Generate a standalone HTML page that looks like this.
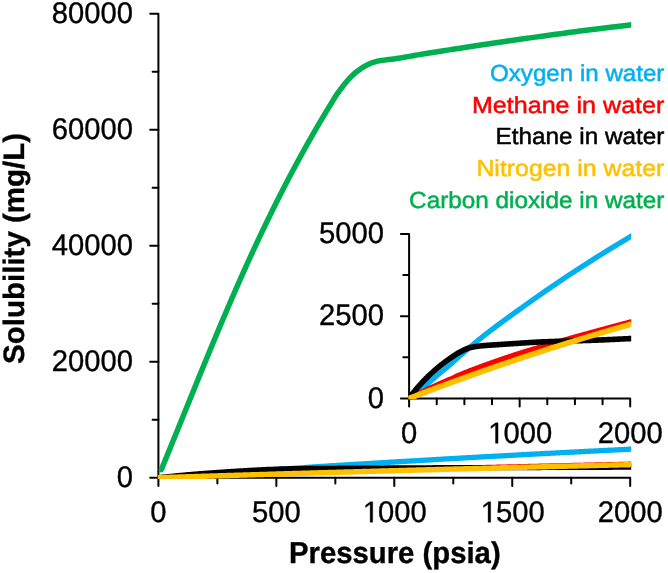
<!DOCTYPE html>
<html><head><meta charset="utf-8"><style>
html,body{margin:0;padding:0;background:#fff;}
body{width:668px;height:573px;overflow:hidden;font-family:"Liberation Sans",sans-serif;}
svg{display:block;will-change:transform;}
text{text-rendering:geometricPrecision;}
</style></head><body>
<svg width="668" height="573" viewBox="0 0 668 573">
<g stroke="#000" stroke-width="2" fill="none" stroke-linecap="round" stroke-linejoin="round">
<path d="M150.20000000000002,13.7 H158.4 V485.9"/>
<path d="M150.20000000000002,477.7 H630.2 V485.9"/>
<path d="M152.6,419.70 H158.4"/>
<path d="M150.20000000000002,361.70 H158.4"/>
<path d="M152.6,303.70 H158.4"/>
<path d="M150.20000000000002,245.70 H158.4"/>
<path d="M152.6,187.70 H158.4"/>
<path d="M150.20000000000002,129.70 H158.4"/>
<path d="M152.6,71.70 H158.4"/>
<path d="M217.38,477.7 V483.5"/>
<path d="M276.35,477.7 V485.9"/>
<path d="M335.33,477.7 V483.5"/>
<path d="M394.30,477.7 V485.9"/>
<path d="M453.28,477.7 V483.5"/>
<path d="M512.25,477.7 V485.9"/>
<path d="M571.23,477.7 V483.5"/>
<path d="M400.90000000000003,233.9 H409.1 V406.59999999999997"/>
<path d="M400.90000000000003,398.4 H630.2 V406.59999999999997"/>
<path d="M403.3,357.27 H409.1"/>
<path d="M400.90000000000003,316.15 H409.1"/>
<path d="M403.3,275.02 H409.1"/>
<path d="M436.74,398.4 V404.2"/>
<path d="M464.38,398.4 V404.2"/>
<path d="M492.01,398.4 V404.2"/>
<path d="M519.65,398.4 V406.59999999999997"/>
<path d="M547.29,398.4 V404.2"/>
<path d="M574.93,398.4 V404.2"/>
<path d="M602.56,398.4 V404.2"/>
</g>
<defs><clipPath id="cm"><rect x="157.8" y="0" width="473.4" height="478.9"/></clipPath><clipPath id="ci"><rect x="408.3" y="200" width="222.9" height="199.3"/></clipPath></defs>
<g clip-path="url(#cm)">
<path d="M158.40,477.70 L159.58,477.63 L160.76,477.55 L161.94,477.48 L163.12,477.40 L164.30,477.33 L165.48,477.25 L166.66,477.18 L167.84,477.10 L169.02,477.03 L170.19,476.95 L171.37,476.88 L172.55,476.80 L173.73,476.72 L174.91,476.65 L176.09,476.57 L177.27,476.49 L178.45,476.42 L179.63,476.34 L180.81,476.26 L181.99,476.18 L183.17,476.10 L184.35,476.02 L185.53,475.95 L186.71,475.87 L187.89,475.79 L189.07,475.71 L190.25,475.63 L191.43,475.55 L192.61,475.47 L193.79,475.39 L194.96,475.31 L196.14,475.23 L197.32,475.14 L198.50,475.06 L199.68,474.98 L200.86,474.89 L202.04,474.81 L203.22,474.73 L204.40,474.64 L205.58,474.56 L206.76,474.47 L207.94,474.39 L209.12,474.30 L210.30,474.22 L211.48,474.13 L212.66,474.05 L213.84,473.96 L215.02,473.88 L216.20,473.80 L217.38,473.71 L218.55,473.63 L219.73,473.54 L220.91,473.46 L222.09,473.38 L223.27,473.30 L224.45,473.21 L225.63,473.13 L226.81,473.05 L227.99,472.97 L229.17,472.89 L230.35,472.81 L231.53,472.74 L232.71,472.66 L233.89,472.58 L235.07,472.50 L236.25,472.42 L237.43,472.34 L238.61,472.26 L239.79,472.18 L240.97,472.10 L242.14,472.02 L243.32,471.94 L244.50,471.86 L245.68,471.78 L246.86,471.69 L248.04,471.61 L249.22,471.52 L250.40,471.43 L251.58,471.35 L252.76,471.26 L253.94,471.17 L255.12,471.08 L256.30,470.99 L257.48,470.90 L258.66,470.81 L259.84,470.72 L261.02,470.63 L262.20,470.55 L263.38,470.46 L264.56,470.37 L265.73,470.28 L266.91,470.20 L268.09,470.11 L269.27,470.03 L270.45,469.94 L271.63,469.86 L272.81,469.77 L273.99,469.69 L275.17,469.60 L276.35,469.52 L277.53,469.44 L278.71,469.35 L279.89,469.27 L281.07,469.19 L282.25,469.10 L283.43,469.02 L284.61,468.94 L285.79,468.85 L286.97,468.77 L288.14,468.69 L289.32,468.61 L290.50,468.52 L291.68,468.44 L292.86,468.36 L294.04,468.27 L295.22,468.19 L296.40,468.11 L297.58,468.03 L298.76,467.94 L299.94,467.86 L301.12,467.78 L302.30,467.70 L303.48,467.62 L304.66,467.53 L305.84,467.45 L307.02,467.37 L308.20,467.29 L309.38,467.21 L310.56,467.14 L311.74,467.06 L312.91,466.98 L314.09,466.90 L315.27,466.82 L316.45,466.75 L317.63,466.67 L318.81,466.59 L319.99,466.52 L321.17,466.44 L322.35,466.37 L323.53,466.29 L324.71,466.22 L325.89,466.14 L327.07,466.07 L328.25,465.99 L329.43,465.92 L330.61,465.84 L331.79,465.77 L332.97,465.70 L334.15,465.62 L335.33,465.55 L336.50,465.48 L337.68,465.40 L338.86,465.33 L340.04,465.26 L341.22,465.18 L342.40,465.11 L343.58,465.04 L344.76,464.96 L345.94,464.89 L347.12,464.82 L348.30,464.75 L349.48,464.67 L350.66,464.60 L351.84,464.53 L353.02,464.46 L354.20,464.39 L355.38,464.31 L356.56,464.24 L357.74,464.17 L358.92,464.10 L360.09,464.03 L361.27,463.96 L362.45,463.88 L363.63,463.81 L364.81,463.74 L365.99,463.67 L367.17,463.60 L368.35,463.53 L369.53,463.46 L370.71,463.39 L371.89,463.32 L373.07,463.25 L374.25,463.18 L375.43,463.11 L376.61,463.03 L377.79,462.96 L378.97,462.89 L380.15,462.82 L381.33,462.75 L382.50,462.68 L383.68,462.61 L384.86,462.54 L386.04,462.47 L387.22,462.40 L388.40,462.33 L389.58,462.26 L390.76,462.19 L391.94,462.12 L393.12,462.05 L394.30,461.98 L395.48,461.91 L396.66,461.84 L397.84,461.77 L399.02,461.70 L400.20,461.64 L401.38,461.57 L402.56,461.50 L403.74,461.43 L404.92,461.36 L406.10,461.29 L407.27,461.22 L408.45,461.15 L409.63,461.08 L410.81,461.01 L411.99,460.94 L413.17,460.87 L414.35,460.80 L415.53,460.73 L416.71,460.66 L417.89,460.60 L419.07,460.53 L420.25,460.46 L421.43,460.39 L422.61,460.32 L423.79,460.25 L424.97,460.18 L426.15,460.11 L427.33,460.04 L428.51,459.98 L429.69,459.91 L430.86,459.84 L432.04,459.77 L433.22,459.70 L434.40,459.63 L435.58,459.57 L436.76,459.50 L437.94,459.43 L439.12,459.36 L440.30,459.29 L441.48,459.22 L442.66,459.16 L443.84,459.09 L445.02,459.02 L446.20,458.95 L447.38,458.89 L448.56,458.82 L449.74,458.75 L450.92,458.68 L452.10,458.62 L453.28,458.55 L454.45,458.48 L455.63,458.41 L456.81,458.35 L457.99,458.28 L459.17,458.21 L460.35,458.15 L461.53,458.08 L462.71,458.01 L463.89,457.95 L465.07,457.88 L466.25,457.81 L467.43,457.75 L468.61,457.68 L469.79,457.61 L470.97,457.55 L472.15,457.48 L473.33,457.42 L474.51,457.35 L475.69,457.28 L476.87,457.22 L478.04,457.15 L479.22,457.09 L480.40,457.02 L481.58,456.96 L482.76,456.89 L483.94,456.82 L485.12,456.76 L486.30,456.69 L487.48,456.63 L488.66,456.56 L489.84,456.50 L491.02,456.43 L492.20,456.37 L493.38,456.31 L494.56,456.24 L495.74,456.18 L496.92,456.11 L498.10,456.05 L499.28,455.98 L500.46,455.92 L501.63,455.85 L502.81,455.79 L503.99,455.73 L505.17,455.66 L506.35,455.60 L507.53,455.53 L508.71,455.47 L509.89,455.41 L511.07,455.34 L512.25,455.28 L513.43,455.22 L514.61,455.15 L515.79,455.09 L516.97,455.03 L518.15,454.96 L519.33,454.90 L520.51,454.84 L521.69,454.77 L522.87,454.71 L524.05,454.65 L525.22,454.58 L526.40,454.52 L527.58,454.46 L528.76,454.40 L529.94,454.33 L531.12,454.27 L532.30,454.21 L533.48,454.15 L534.66,454.08 L535.84,454.02 L537.02,453.96 L538.20,453.90 L539.38,453.83 L540.56,453.77 L541.74,453.71 L542.92,453.65 L544.10,453.59 L545.28,453.52 L546.46,453.46 L547.64,453.40 L548.81,453.34 L549.99,453.28 L551.17,453.21 L552.35,453.15 L553.53,453.09 L554.71,453.03 L555.89,452.97 L557.07,452.91 L558.25,452.84 L559.43,452.78 L560.61,452.72 L561.79,452.66 L562.97,452.60 L564.15,452.54 L565.33,452.48 L566.51,452.42 L567.69,452.36 L568.87,452.29 L570.05,452.23 L571.23,452.17 L572.40,452.11 L573.58,452.05 L574.76,451.99 L575.94,451.93 L577.12,451.87 L578.30,451.81 L579.48,451.75 L580.66,451.69 L581.84,451.63 L583.02,451.57 L584.20,451.51 L585.38,451.45 L586.56,451.39 L587.74,451.33 L588.92,451.27 L590.10,451.21 L591.28,451.15 L592.46,451.09 L593.64,451.03 L594.82,450.97 L595.99,450.91 L597.17,450.85 L598.35,450.80 L599.53,450.74 L600.71,450.68 L601.89,450.62 L603.07,450.56 L604.25,450.50 L605.43,450.44 L606.61,450.38 L607.79,450.32 L608.97,450.26 L610.15,450.21 L611.33,450.15 L612.51,450.09 L613.69,450.03 L614.87,449.97 L616.05,449.91 L617.23,449.85 L618.41,449.80 L619.58,449.74 L620.76,449.68 L621.94,449.62 L623.12,449.56 L624.30,449.50 L625.48,449.44 L626.66,449.39 L627.84,449.33 L629.02,449.27 L630.20,449.21 L632.56,449.09" stroke="#00B0F0" stroke-width="5.3" fill="none" stroke-linejoin="round" stroke-linecap="round"/>
<path d="M158.40,477.70 L159.58,477.65 L160.76,477.60 L161.94,477.55 L163.12,477.50 L164.30,477.46 L165.48,477.41 L166.66,477.36 L167.84,477.31 L169.02,477.26 L170.19,477.21 L171.37,477.17 L172.55,477.12 L173.73,477.07 L174.91,477.02 L176.09,476.97 L177.27,476.93 L178.45,476.88 L179.63,476.83 L180.81,476.78 L181.99,476.74 L183.17,476.69 L184.35,476.64 L185.53,476.59 L186.71,476.55 L187.89,476.50 L189.07,476.45 L190.25,476.41 L191.43,476.36 L192.61,476.31 L193.79,476.27 L194.96,476.22 L196.14,476.17 L197.32,476.13 L198.50,476.08 L199.68,476.04 L200.86,475.99 L202.04,475.94 L203.22,475.90 L204.40,475.85 L205.58,475.80 L206.76,475.76 L207.94,475.71 L209.12,475.67 L210.30,475.62 L211.48,475.58 L212.66,475.53 L213.84,475.49 L215.02,475.44 L216.20,475.40 L217.38,475.35 L218.55,475.31 L219.73,475.26 L220.91,475.22 L222.09,475.17 L223.27,475.13 L224.45,475.09 L225.63,475.04 L226.81,475.00 L227.99,474.96 L229.17,474.92 L230.35,474.87 L231.53,474.83 L232.71,474.79 L233.89,474.75 L235.07,474.71 L236.25,474.67 L237.43,474.63 L238.61,474.58 L239.79,474.54 L240.97,474.50 L242.14,474.46 L243.32,474.42 L244.50,474.38 L245.68,474.33 L246.86,474.29 L248.04,474.25 L249.22,474.20 L250.40,474.16 L251.58,474.11 L252.76,474.07 L253.94,474.02 L255.12,473.98 L256.30,473.93 L257.48,473.89 L258.66,473.84 L259.84,473.80 L261.02,473.76 L262.20,473.71 L263.38,473.67 L264.56,473.63 L265.73,473.58 L266.91,473.54 L268.09,473.50 L269.27,473.46 L270.45,473.42 L271.63,473.38 L272.81,473.34 L273.99,473.30 L275.17,473.26 L276.35,473.22 L277.53,473.18 L278.71,473.14 L279.89,473.10 L281.07,473.06 L282.25,473.03 L283.43,472.99 L284.61,472.95 L285.79,472.91 L286.97,472.87 L288.14,472.84 L289.32,472.80 L290.50,472.76 L291.68,472.72 L292.86,472.69 L294.04,472.65 L295.22,472.61 L296.40,472.57 L297.58,472.54 L298.76,472.50 L299.94,472.46 L301.12,472.43 L302.30,472.39 L303.48,472.35 L304.66,472.32 L305.84,472.28 L307.02,472.25 L308.20,472.21 L309.38,472.17 L310.56,472.14 L311.74,472.10 L312.91,472.07 L314.09,472.03 L315.27,472.00 L316.45,471.96 L317.63,471.92 L318.81,471.89 L319.99,471.85 L321.17,471.82 L322.35,471.78 L323.53,471.75 L324.71,471.71 L325.89,471.68 L327.07,471.64 L328.25,471.61 L329.43,471.57 L330.61,471.54 L331.79,471.50 L332.97,471.47 L334.15,471.43 L335.33,471.40 L336.50,471.37 L337.68,471.33 L338.86,471.30 L340.04,471.26 L341.22,471.23 L342.40,471.19 L343.58,471.16 L344.76,471.13 L345.94,471.09 L347.12,471.06 L348.30,471.02 L349.48,470.99 L350.66,470.96 L351.84,470.92 L353.02,470.89 L354.20,470.86 L355.38,470.82 L356.56,470.79 L357.74,470.76 L358.92,470.72 L360.09,470.69 L361.27,470.66 L362.45,470.62 L363.63,470.59 L364.81,470.56 L365.99,470.53 L367.17,470.49 L368.35,470.46 L369.53,470.43 L370.71,470.39 L371.89,470.36 L373.07,470.33 L374.25,470.30 L375.43,470.26 L376.61,470.23 L377.79,470.20 L378.97,470.17 L380.15,470.14 L381.33,470.10 L382.50,470.07 L383.68,470.04 L384.86,470.01 L386.04,469.98 L387.22,469.95 L388.40,469.91 L389.58,469.88 L390.76,469.85 L391.94,469.82 L393.12,469.79 L394.30,469.76 L395.48,469.73 L396.66,469.69 L397.84,469.66 L399.02,469.63 L400.20,469.60 L401.38,469.57 L402.56,469.54 L403.74,469.51 L404.92,469.48 L406.10,469.45 L407.27,469.42 L408.45,469.39 L409.63,469.36 L410.81,469.33 L411.99,469.30 L413.17,469.27 L414.35,469.24 L415.53,469.21 L416.71,469.18 L417.89,469.16 L419.07,469.13 L420.25,469.10 L421.43,469.07 L422.61,469.04 L423.79,469.01 L424.97,468.98 L426.15,468.95 L427.33,468.92 L428.51,468.89 L429.69,468.87 L430.86,468.84 L432.04,468.81 L433.22,468.78 L434.40,468.75 L435.58,468.72 L436.76,468.69 L437.94,468.66 L439.12,468.63 L440.30,468.61 L441.48,468.58 L442.66,468.55 L443.84,468.52 L445.02,468.49 L446.20,468.46 L447.38,468.43 L448.56,468.40 L449.74,468.37 L450.92,468.35 L452.10,468.32 L453.28,468.29 L454.45,468.26 L455.63,468.23 L456.81,468.20 L457.99,468.17 L459.17,468.15 L460.35,468.12 L461.53,468.09 L462.71,468.06 L463.89,468.03 L465.07,468.00 L466.25,467.98 L467.43,467.95 L468.61,467.92 L469.79,467.89 L470.97,467.86 L472.15,467.83 L473.33,467.81 L474.51,467.78 L475.69,467.75 L476.87,467.72 L478.04,467.69 L479.22,467.67 L480.40,467.64 L481.58,467.61 L482.76,467.58 L483.94,467.55 L485.12,467.53 L486.30,467.50 L487.48,467.47 L488.66,467.44 L489.84,467.41 L491.02,467.39 L492.20,467.36 L493.38,467.33 L494.56,467.30 L495.74,467.28 L496.92,467.25 L498.10,467.22 L499.28,467.19 L500.46,467.16 L501.63,467.14 L502.81,467.11 L503.99,467.08 L505.17,467.05 L506.35,467.03 L507.53,467.00 L508.71,466.97 L509.89,466.94 L511.07,466.92 L512.25,466.89 L513.43,466.86 L514.61,466.84 L515.79,466.81 L516.97,466.78 L518.15,466.75 L519.33,466.73 L520.51,466.70 L521.69,466.67 L522.87,466.64 L524.05,466.62 L525.22,466.59 L526.40,466.56 L527.58,466.54 L528.76,466.51 L529.94,466.48 L531.12,466.45 L532.30,466.43 L533.48,466.40 L534.66,466.37 L535.84,466.35 L537.02,466.32 L538.20,466.29 L539.38,466.27 L540.56,466.24 L541.74,466.21 L542.92,466.18 L544.10,466.16 L545.28,466.13 L546.46,466.10 L547.64,466.08 L548.81,466.05 L549.99,466.02 L551.17,466.00 L552.35,465.97 L553.53,465.94 L554.71,465.92 L555.89,465.89 L557.07,465.86 L558.25,465.84 L559.43,465.81 L560.61,465.78 L561.79,465.76 L562.97,465.73 L564.15,465.70 L565.33,465.68 L566.51,465.65 L567.69,465.62 L568.87,465.60 L570.05,465.57 L571.23,465.55 L572.40,465.52 L573.58,465.49 L574.76,465.47 L575.94,465.44 L577.12,465.41 L578.30,465.39 L579.48,465.36 L580.66,465.33 L581.84,465.31 L583.02,465.28 L584.20,465.26 L585.38,465.23 L586.56,465.20 L587.74,465.18 L588.92,465.15 L590.10,465.12 L591.28,465.10 L592.46,465.07 L593.64,465.05 L594.82,465.02 L595.99,464.99 L597.17,464.97 L598.35,464.94 L599.53,464.92 L600.71,464.89 L601.89,464.86 L603.07,464.84 L604.25,464.81 L605.43,464.79 L606.61,464.76 L607.79,464.73 L608.97,464.71 L610.15,464.68 L611.33,464.66 L612.51,464.63 L613.69,464.60 L614.87,464.58 L616.05,464.55 L617.23,464.53 L618.41,464.50 L619.58,464.48 L620.76,464.45 L621.94,464.42 L623.12,464.40 L624.30,464.37 L625.48,464.35 L626.66,464.32 L627.84,464.30 L629.02,464.27 L630.20,464.25 L632.56,464.20" stroke="#FF0000" stroke-width="5.3" fill="none" stroke-linejoin="round" stroke-linecap="round"/>
<path d="M158.40,477.70 L159.58,477.57 L160.76,477.44 L161.94,477.31 L163.12,477.18 L164.30,477.05 L165.48,476.92 L166.66,476.80 L167.84,476.67 L169.02,476.55 L170.19,476.43 L171.37,476.30 L172.55,476.18 L173.73,476.07 L174.91,475.95 L176.09,475.83 L177.27,475.72 L178.45,475.60 L179.63,475.49 L180.81,475.38 L181.99,475.27 L183.17,475.16 L184.35,475.06 L185.53,474.95 L186.71,474.85 L187.89,474.74 L189.07,474.64 L190.25,474.54 L191.43,474.44 L192.61,474.34 L193.79,474.24 L194.96,474.14 L196.14,474.05 L197.32,473.95 L198.50,473.86 L199.68,473.76 L200.86,473.67 L202.04,473.58 L203.22,473.49 L204.40,473.40 L205.58,473.31 L206.76,473.22 L207.94,473.13 L209.12,473.04 L210.30,472.95 L211.48,472.87 L212.66,472.78 L213.84,472.70 L215.02,472.61 L216.20,472.53 L217.38,472.45 L218.55,472.36 L219.73,472.28 L220.91,472.20 L222.09,472.12 L223.27,472.04 L224.45,471.96 L225.63,471.88 L226.81,471.81 L227.99,471.73 L229.17,471.65 L230.35,471.58 L231.53,471.50 L232.71,471.43 L233.89,471.35 L235.07,471.28 L236.25,471.21 L237.43,471.14 L238.61,471.06 L239.79,470.99 L240.97,470.92 L242.14,470.85 L243.32,470.78 L244.50,470.72 L245.68,470.65 L246.86,470.58 L248.04,470.51 L249.22,470.45 L250.40,470.38 L251.58,470.31 L252.76,470.24 L253.94,470.18 L255.12,470.11 L256.30,470.05 L257.48,469.98 L258.66,469.92 L259.84,469.86 L261.02,469.80 L262.20,469.74 L263.38,469.68 L264.56,469.63 L265.73,469.58 L266.91,469.52 L268.09,469.47 L269.27,469.42 L270.45,469.37 L271.63,469.32 L272.81,469.28 L273.99,469.23 L275.17,469.18 L276.35,469.13 L277.53,469.09 L278.71,469.04 L279.89,469.00 L281.07,468.96 L282.25,468.92 L283.43,468.89 L284.61,468.85 L285.79,468.82 L286.97,468.79 L288.14,468.77 L289.32,468.74 L290.50,468.72 L291.68,468.70 L292.86,468.68 L294.04,468.66 L295.22,468.64 L296.40,468.62 L297.58,468.60 L298.76,468.59 L299.94,468.57 L301.12,468.55 L302.30,468.54 L303.48,468.53 L304.66,468.51 L305.84,468.50 L307.02,468.49 L308.20,468.48 L309.38,468.47 L310.56,468.45 L311.74,468.44 L312.91,468.43 L314.09,468.42 L315.27,468.42 L316.45,468.41 L317.63,468.40 L318.81,468.39 L319.99,468.38 L321.17,468.37 L322.35,468.37 L323.53,468.36 L324.71,468.35 L325.89,468.34 L327.07,468.34 L328.25,468.33 L329.43,468.32 L330.61,468.32 L331.79,468.31 L332.97,468.30 L334.15,468.30 L335.33,468.29 L336.50,468.28 L337.68,468.28 L338.86,468.27 L340.04,468.26 L341.22,468.26 L342.40,468.25 L343.58,468.25 L344.76,468.24 L345.94,468.23 L347.12,468.23 L348.30,468.22 L349.48,468.21 L350.66,468.21 L351.84,468.20 L353.02,468.19 L354.20,468.19 L355.38,468.18 L356.56,468.17 L357.74,468.17 L358.92,468.16 L360.09,468.15 L361.27,468.15 L362.45,468.14 L363.63,468.13 L364.81,468.13 L365.99,468.12 L367.17,468.12 L368.35,468.11 L369.53,468.10 L370.71,468.10 L371.89,468.09 L373.07,468.08 L374.25,468.08 L375.43,468.07 L376.61,468.06 L377.79,468.06 L378.97,468.05 L380.15,468.05 L381.33,468.04 L382.50,468.03 L383.68,468.03 L384.86,468.02 L386.04,468.02 L387.22,468.01 L388.40,468.00 L389.58,468.00 L390.76,467.99 L391.94,467.98 L393.12,467.98 L394.30,467.97 L395.48,467.97 L396.66,467.96 L397.84,467.95 L399.02,467.95 L400.20,467.94 L401.38,467.94 L402.56,467.93 L403.74,467.92 L404.92,467.92 L406.10,467.91 L407.27,467.90 L408.45,467.90 L409.63,467.89 L410.81,467.88 L411.99,467.88 L413.17,467.87 L414.35,467.87 L415.53,467.86 L416.71,467.85 L417.89,467.85 L419.07,467.84 L420.25,467.84 L421.43,467.83 L422.61,467.82 L423.79,467.82 L424.97,467.81 L426.15,467.81 L427.33,467.80 L428.51,467.80 L429.69,467.79 L430.86,467.78 L432.04,467.78 L433.22,467.77 L434.40,467.77 L435.58,467.77 L436.76,467.76 L437.94,467.76 L439.12,467.75 L440.30,467.75 L441.48,467.74 L442.66,467.74 L443.84,467.74 L445.02,467.73 L446.20,467.73 L447.38,467.72 L448.56,467.72 L449.74,467.72 L450.92,467.71 L452.10,467.71 L453.28,467.70 L454.45,467.70 L455.63,467.70 L456.81,467.69 L457.99,467.69 L459.17,467.69 L460.35,467.68 L461.53,467.68 L462.71,467.67 L463.89,467.67 L465.07,467.67 L466.25,467.66 L467.43,467.66 L468.61,467.66 L469.79,467.65 L470.97,467.65 L472.15,467.65 L473.33,467.64 L474.51,467.64 L475.69,467.64 L476.87,467.64 L478.04,467.63 L479.22,467.63 L480.40,467.63 L481.58,467.62 L482.76,467.62 L483.94,467.62 L485.12,467.61 L486.30,467.61 L487.48,467.61 L488.66,467.61 L489.84,467.60 L491.02,467.60 L492.20,467.60 L493.38,467.59 L494.56,467.59 L495.74,467.59 L496.92,467.59 L498.10,467.58 L499.28,467.58 L500.46,467.58 L501.63,467.57 L502.81,467.57 L503.99,467.57 L505.17,467.57 L506.35,467.56 L507.53,467.56 L508.71,467.56 L509.89,467.55 L511.07,467.55 L512.25,467.55 L513.43,467.55 L514.61,467.54 L515.79,467.54 L516.97,467.54 L518.15,467.53 L519.33,467.53 L520.51,467.53 L521.69,467.53 L522.87,467.52 L524.05,467.52 L525.22,467.52 L526.40,467.51 L527.58,467.51 L528.76,467.51 L529.94,467.51 L531.12,467.50 L532.30,467.50 L533.48,467.50 L534.66,467.49 L535.84,467.49 L537.02,467.49 L538.20,467.48 L539.38,467.48 L540.56,467.48 L541.74,467.48 L542.92,467.47 L544.10,467.47 L545.28,467.47 L546.46,467.46 L547.64,467.46 L548.81,467.46 L549.99,467.45 L551.17,467.45 L552.35,467.45 L553.53,467.44 L554.71,467.44 L555.89,467.44 L557.07,467.43 L558.25,467.43 L559.43,467.42 L560.61,467.42 L561.79,467.42 L562.97,467.41 L564.15,467.41 L565.33,467.41 L566.51,467.40 L567.69,467.40 L568.87,467.39 L570.05,467.39 L571.23,467.39 L572.40,467.38 L573.58,467.38 L574.76,467.37 L575.94,467.37 L577.12,467.36 L578.30,467.36 L579.48,467.36 L580.66,467.35 L581.84,467.35 L583.02,467.34 L584.20,467.34 L585.38,467.33 L586.56,467.33 L587.74,467.32 L588.92,467.32 L590.10,467.32 L591.28,467.31 L592.46,467.31 L593.64,467.30 L594.82,467.30 L595.99,467.29 L597.17,467.29 L598.35,467.28 L599.53,467.28 L600.71,467.27 L601.89,467.27 L603.07,467.26 L604.25,467.26 L605.43,467.25 L606.61,467.25 L607.79,467.24 L608.97,467.24 L610.15,467.23 L611.33,467.23 L612.51,467.22 L613.69,467.22 L614.87,467.22 L616.05,467.21 L617.23,467.21 L618.41,467.20 L619.58,467.20 L620.76,467.19 L621.94,467.19 L623.12,467.18 L624.30,467.18 L625.48,467.17 L626.66,467.17 L627.84,467.17 L629.02,467.16 L630.20,467.16 L632.56,467.15" stroke="#000000" stroke-width="5.3" fill="none" stroke-linejoin="round" stroke-linecap="round"/>
<path d="M158.40,477.70 L159.58,477.66 L160.76,477.62 L161.94,477.59 L163.12,477.55 L164.30,477.51 L165.48,477.47 L166.66,477.44 L167.84,477.40 L169.02,477.36 L170.19,477.32 L171.37,477.29 L172.55,477.25 L173.73,477.21 L174.91,477.18 L176.09,477.14 L177.27,477.10 L178.45,477.06 L179.63,477.03 L180.81,476.99 L181.99,476.95 L183.17,476.91 L184.35,476.88 L185.53,476.84 L186.71,476.80 L187.89,476.77 L189.07,476.73 L190.25,476.69 L191.43,476.66 L192.61,476.62 L193.79,476.58 L194.96,476.55 L196.14,476.51 L197.32,476.47 L198.50,476.43 L199.68,476.40 L200.86,476.36 L202.04,476.32 L203.22,476.29 L204.40,476.25 L205.58,476.21 L206.76,476.18 L207.94,476.14 L209.12,476.10 L210.30,476.07 L211.48,476.03 L212.66,476.00 L213.84,475.96 L215.02,475.92 L216.20,475.89 L217.38,475.85 L218.55,475.81 L219.73,475.78 L220.91,475.74 L222.09,475.70 L223.27,475.67 L224.45,475.63 L225.63,475.60 L226.81,475.56 L227.99,475.52 L229.17,475.49 L230.35,475.45 L231.53,475.41 L232.71,475.38 L233.89,475.34 L235.07,475.31 L236.25,475.27 L237.43,475.23 L238.61,475.20 L239.79,475.16 L240.97,475.13 L242.14,475.09 L243.32,475.06 L244.50,475.02 L245.68,474.98 L246.86,474.95 L248.04,474.91 L249.22,474.88 L250.40,474.84 L251.58,474.80 L252.76,474.77 L253.94,474.73 L255.12,474.70 L256.30,474.66 L257.48,474.63 L258.66,474.59 L259.84,474.56 L261.02,474.52 L262.20,474.49 L263.38,474.45 L264.56,474.41 L265.73,474.38 L266.91,474.34 L268.09,474.31 L269.27,474.27 L270.45,474.24 L271.63,474.20 L272.81,474.17 L273.99,474.13 L275.17,474.10 L276.35,474.06 L277.53,474.03 L278.71,473.99 L279.89,473.96 L281.07,473.92 L282.25,473.89 L283.43,473.85 L284.61,473.82 L285.79,473.78 L286.97,473.75 L288.14,473.71 L289.32,473.68 L290.50,473.64 L291.68,473.61 L292.86,473.57 L294.04,473.54 L295.22,473.50 L296.40,473.47 L297.58,473.43 L298.76,473.40 L299.94,473.36 L301.12,473.33 L302.30,473.30 L303.48,473.26 L304.66,473.23 L305.84,473.19 L307.02,473.16 L308.20,473.12 L309.38,473.09 L310.56,473.05 L311.74,473.02 L312.91,472.99 L314.09,472.95 L315.27,472.92 L316.45,472.88 L317.63,472.85 L318.81,472.81 L319.99,472.78 L321.17,472.75 L322.35,472.71 L323.53,472.68 L324.71,472.64 L325.89,472.61 L327.07,472.58 L328.25,472.54 L329.43,472.51 L330.61,472.47 L331.79,472.44 L332.97,472.41 L334.15,472.37 L335.33,472.34 L336.50,472.30 L337.68,472.27 L338.86,472.24 L340.04,472.20 L341.22,472.17 L342.40,472.14 L343.58,472.10 L344.76,472.07 L345.94,472.03 L347.12,472.00 L348.30,471.97 L349.48,471.93 L350.66,471.90 L351.84,471.87 L353.02,471.83 L354.20,471.80 L355.38,471.77 L356.56,471.73 L357.74,471.70 L358.92,471.67 L360.09,471.63 L361.27,471.60 L362.45,471.57 L363.63,471.53 L364.81,471.50 L365.99,471.47 L367.17,471.43 L368.35,471.40 L369.53,471.37 L370.71,471.33 L371.89,471.30 L373.07,471.27 L374.25,471.23 L375.43,471.20 L376.61,471.17 L377.79,471.14 L378.97,471.10 L380.15,471.07 L381.33,471.04 L382.50,471.00 L383.68,470.97 L384.86,470.94 L386.04,470.91 L387.22,470.87 L388.40,470.84 L389.58,470.81 L390.76,470.78 L391.94,470.74 L393.12,470.71 L394.30,470.68 L395.48,470.64 L396.66,470.61 L397.84,470.58 L399.02,470.55 L400.20,470.51 L401.38,470.48 L402.56,470.45 L403.74,470.42 L404.92,470.39 L406.10,470.35 L407.27,470.32 L408.45,470.29 L409.63,470.26 L410.81,470.22 L411.99,470.19 L413.17,470.16 L414.35,470.13 L415.53,470.09 L416.71,470.06 L417.89,470.03 L419.07,470.00 L420.25,469.97 L421.43,469.93 L422.61,469.90 L423.79,469.87 L424.97,469.84 L426.15,469.81 L427.33,469.78 L428.51,469.74 L429.69,469.71 L430.86,469.68 L432.04,469.65 L433.22,469.62 L434.40,469.58 L435.58,469.55 L436.76,469.52 L437.94,469.49 L439.12,469.46 L440.30,469.43 L441.48,469.39 L442.66,469.36 L443.84,469.33 L445.02,469.30 L446.20,469.27 L447.38,469.24 L448.56,469.21 L449.74,469.17 L450.92,469.14 L452.10,469.11 L453.28,469.08 L454.45,469.05 L455.63,469.02 L456.81,468.99 L457.99,468.95 L459.17,468.92 L460.35,468.89 L461.53,468.86 L462.71,468.83 L463.89,468.80 L465.07,468.77 L466.25,468.74 L467.43,468.71 L468.61,468.68 L469.79,468.64 L470.97,468.61 L472.15,468.58 L473.33,468.55 L474.51,468.52 L475.69,468.49 L476.87,468.46 L478.04,468.43 L479.22,468.40 L480.40,468.37 L481.58,468.34 L482.76,468.31 L483.94,468.27 L485.12,468.24 L486.30,468.21 L487.48,468.18 L488.66,468.15 L489.84,468.12 L491.02,468.09 L492.20,468.06 L493.38,468.03 L494.56,468.00 L495.74,467.97 L496.92,467.94 L498.10,467.91 L499.28,467.88 L500.46,467.85 L501.63,467.82 L502.81,467.79 L503.99,467.76 L505.17,467.73 L506.35,467.70 L507.53,467.67 L508.71,467.64 L509.89,467.61 L511.07,467.58 L512.25,467.55 L513.43,467.52 L514.61,467.49 L515.79,467.46 L516.97,467.43 L518.15,467.40 L519.33,467.37 L520.51,467.34 L521.69,467.31 L522.87,467.28 L524.05,467.25 L525.22,467.22 L526.40,467.19 L527.58,467.16 L528.76,467.13 L529.94,467.10 L531.12,467.07 L532.30,467.04 L533.48,467.01 L534.66,466.98 L535.84,466.95 L537.02,466.92 L538.20,466.89 L539.38,466.86 L540.56,466.83 L541.74,466.80 L542.92,466.77 L544.10,466.74 L545.28,466.71 L546.46,466.69 L547.64,466.66 L548.81,466.63 L549.99,466.60 L551.17,466.57 L552.35,466.54 L553.53,466.51 L554.71,466.48 L555.89,466.45 L557.07,466.42 L558.25,466.39 L559.43,466.36 L560.61,466.34 L561.79,466.31 L562.97,466.28 L564.15,466.25 L565.33,466.22 L566.51,466.19 L567.69,466.16 L568.87,466.13 L570.05,466.10 L571.23,466.08 L572.40,466.05 L573.58,466.02 L574.76,465.99 L575.94,465.96 L577.12,465.93 L578.30,465.90 L579.48,465.87 L580.66,465.85 L581.84,465.82 L583.02,465.79 L584.20,465.76 L585.38,465.73 L586.56,465.70 L587.74,465.68 L588.92,465.65 L590.10,465.62 L591.28,465.59 L592.46,465.56 L593.64,465.53 L594.82,465.51 L595.99,465.48 L597.17,465.45 L598.35,465.42 L599.53,465.39 L600.71,465.36 L601.89,465.34 L603.07,465.31 L604.25,465.28 L605.43,465.25 L606.61,465.22 L607.79,465.20 L608.97,465.17 L610.15,465.14 L611.33,465.11 L612.51,465.08 L613.69,465.06 L614.87,465.03 L616.05,465.00 L617.23,464.97 L618.41,464.94 L619.58,464.92 L620.76,464.89 L621.94,464.86 L623.12,464.83 L624.30,464.81 L625.48,464.78 L626.66,464.75 L627.84,464.72 L629.02,464.70 L630.20,464.67 L632.56,464.61" stroke="#FFC000" stroke-width="5.4" fill="none" stroke-linejoin="round" stroke-linecap="round"/>
<path d="M161.34,469.60 L161.59,468.98 L161.85,468.35 L162.11,467.73 L162.37,467.10 L162.62,466.48 L162.88,465.85 L163.14,465.23 L163.40,464.60 L163.65,463.98 L163.91,463.35 L164.17,462.73 L164.42,462.10 L164.68,461.48 L164.94,460.85 L165.19,460.23 L165.45,459.60 L165.71,458.98 L165.96,458.35 L166.22,457.73 L166.48,457.10 L166.73,456.48 L166.99,455.85 L167.24,455.23 L167.50,454.60 L167.76,453.98 L168.01,453.35 L168.27,452.73 L168.52,452.10 L168.78,451.48 L169.03,450.85 L169.29,450.23 L169.54,449.60 L169.80,448.98 L170.05,448.35 L170.31,447.73 L170.57,447.10 L170.82,446.48 L171.07,445.85 L171.33,445.23 L171.58,444.60 L171.84,443.98 L172.09,443.35 L172.35,442.73 L172.60,442.10 L172.86,441.48 L173.11,440.85 L173.37,440.23 L173.62,439.60 L173.88,438.98 L174.13,438.35 L174.38,437.73 L174.64,437.10 L174.89,436.48 L175.15,435.85 L175.40,435.23 L175.65,434.60 L175.91,433.98 L176.16,433.35 L176.42,432.73 L176.67,432.10 L176.92,431.48 L177.18,430.85 L177.43,430.23 L177.69,429.60 L177.94,428.98 L178.19,428.35 L178.45,427.73 L178.70,427.10 L178.95,426.48 L179.21,425.85 L179.46,425.23 L179.71,424.60 L179.97,423.98 L180.22,423.35 L180.47,422.73 L180.73,422.10 L180.98,421.48 L181.23,420.85 L181.49,420.23 L181.74,419.60 L181.99,418.98 L182.25,418.35 L182.50,417.73 L182.75,417.10 L183.01,416.48 L183.26,415.85 L183.51,415.23 L183.77,414.60 L184.02,413.98 L184.27,413.35 L184.53,412.73 L184.78,412.10 L185.03,411.48 L185.29,410.85 L185.54,410.22 L185.79,409.60 L186.05,408.97 L186.30,408.35 L186.55,407.72 L186.81,407.10 L187.06,406.47 L187.31,405.85 L187.57,405.22 L187.82,404.60 L188.07,403.97 L188.33,403.35 L188.58,402.72 L188.83,402.10 L189.09,401.47 L189.34,400.85 L189.59,400.22 L189.85,399.60 L190.10,398.97 L190.35,398.35 L190.61,397.72 L190.86,397.10 L191.11,396.47 L191.37,395.85 L191.62,395.22 L191.87,394.60 L192.13,393.97 L192.38,393.35 L192.63,392.72 L192.89,392.10 L193.14,391.47 L193.40,390.85 L193.65,390.22 L193.90,389.60 L194.16,388.97 L194.41,388.35 L194.66,387.72 L194.92,387.10 L195.17,386.47 L195.43,385.85 L195.68,385.22 L195.93,384.60 L196.19,383.97 L196.44,383.35 L196.70,382.72 L196.95,382.10 L197.21,381.47 L197.46,380.85 L197.72,380.22 L197.97,379.60 L198.22,378.97 L198.48,378.35 L198.73,377.72 L198.99,377.10 L199.24,376.47 L199.50,375.85 L199.75,375.22 L200.01,374.60 L200.26,373.97 L200.52,373.35 L200.77,372.72 L201.03,372.10 L201.28,371.47 L201.54,370.85 L201.79,370.22 L202.05,369.60 L202.31,368.97 L202.56,368.35 L202.82,367.72 L203.07,367.10 L203.33,366.47 L203.59,365.85 L203.84,365.22 L204.10,364.60 L204.35,363.97 L204.61,363.35 L204.87,362.72 L205.12,362.10 L205.38,361.47 L205.64,360.85 L205.89,360.22 L206.15,359.60 L206.41,358.97 L206.66,358.35 L206.92,357.72 L207.18,357.10 L207.43,356.47 L207.69,355.85 L207.95,355.22 L208.21,354.60 L208.46,353.97 L208.72,353.35 L208.98,352.72 L209.24,352.10 L209.50,351.47 L209.75,350.85 L210.01,350.22 L210.27,349.60 L210.53,348.97 L210.79,348.35 L211.05,347.72 L211.31,347.10 L211.56,346.47 L211.82,345.85 L212.08,345.22 L212.34,344.60 L212.60,343.97 L212.86,343.35 L213.12,342.72 L213.38,342.10 L213.64,341.47 L213.90,340.85 L214.16,340.22 L214.42,339.60 L214.68,338.97 L214.94,338.35 L215.20,337.72 L215.46,337.10 L215.72,336.47 L215.98,335.85 L216.24,335.22 L216.51,334.60 L216.77,333.97 L217.03,333.35 L217.29,332.72 L217.55,332.10 L217.81,331.47 L218.08,330.85 L218.34,330.22 L218.60,329.60 L218.86,328.97 L219.12,328.35 L219.39,327.72 L219.65,327.10 L219.91,326.47 L220.18,325.85 L220.44,325.22 L220.70,324.60 L220.97,323.97 L221.23,323.35 L221.49,322.72 L221.76,322.10 L222.02,321.47 L222.29,320.85 L222.55,320.22 L222.82,319.60 L223.08,318.97 L223.35,318.35 L223.61,317.72 L223.88,317.10 L224.14,316.47 L224.41,315.85 L224.67,315.22 L224.94,314.60 L225.21,313.97 L225.47,313.35 L225.74,312.72 L226.00,312.10 L226.27,311.47 L226.54,310.85 L226.81,310.22 L227.07,309.60 L227.34,308.97 L227.61,308.35 L227.88,307.72 L228.14,307.10 L228.41,306.47 L228.68,305.85 L228.95,305.22 L229.22,304.60 L229.49,303.97 L229.76,303.35 L230.02,302.72 L230.29,302.10 L230.56,301.47 L230.83,300.85 L231.10,300.22 L231.37,299.60 L231.64,298.97 L231.91,298.35 L232.19,297.72 L232.46,297.10 L232.73,296.47 L233.00,295.85 L233.27,295.22 L233.54,294.60 L233.81,293.97 L234.09,293.35 L234.36,292.72 L234.63,292.10 L234.90,291.47 L235.18,290.85 L235.45,290.22 L235.72,289.60 L236.00,288.97 L236.27,288.35 L236.55,287.72 L236.82,287.10 L237.09,286.47 L237.37,285.85 L237.64,285.22 L237.92,284.60 L238.19,283.97 L238.47,283.35 L238.75,282.72 L239.02,282.10 L239.30,281.47 L239.57,280.85 L239.85,280.22 L240.13,279.60 L240.41,278.97 L240.68,278.35 L240.96,277.72 L241.24,277.10 L241.52,276.47 L241.79,275.85 L242.07,275.22 L242.35,274.60 L242.63,273.97 L242.91,273.35 L243.19,272.72 L243.47,272.10 L243.75,271.47 L244.03,270.85 L244.31,270.22 L244.59,269.60 L244.87,268.97 L245.15,268.35 L245.43,267.72 L245.71,267.10 L246.00,266.47 L246.28,265.85 L246.56,265.22 L246.84,264.60 L247.13,263.97 L247.41,263.35 L247.69,262.72 L247.98,262.10 L248.26,261.47 L248.54,260.85 L248.83,260.22 L249.11,259.60 L249.40,258.97 L249.68,258.35 L249.97,257.72 L250.26,257.10 L250.54,256.47 L250.83,255.85 L251.11,255.22 L251.40,254.60 L251.69,253.97 L251.98,253.35 L252.26,252.72 L252.55,252.10 L252.84,251.47 L253.13,250.85 L253.42,250.22 L253.71,249.60 L253.99,248.97 L254.28,248.35 L254.57,247.72 L254.86,247.10 L255.15,246.47 L255.44,245.85 L255.74,245.22 L256.03,244.60 L256.32,243.97 L256.61,243.35 L256.90,242.72 L257.19,242.10 L257.49,241.47 L257.78,240.85 L258.07,240.22 L258.37,239.60 L258.66,238.97 L258.96,238.35 L259.25,237.72 L259.54,237.10 L259.84,236.47 L260.13,235.85 L260.43,235.22 L260.73,234.60 L261.02,233.97 L261.32,233.35 L261.62,232.72 L261.91,232.10 L262.21,231.47 L262.51,230.85 L262.81,230.22 L263.10,229.60 L263.40,228.97 L263.70,228.35 L264.00,227.72 L264.30,227.10 L264.60,226.47 L264.90,225.85 L265.20,225.22 L265.50,224.60 L265.81,223.97 L266.11,223.35 L266.41,222.72 L266.71,222.10 L267.01,221.47 L267.32,220.85 L267.62,220.22 L267.92,219.60 L268.23,218.97 L268.53,218.35 L268.84,217.72 L269.14,217.10 L269.45,216.47 L269.75,215.85 L270.06,215.22 L270.36,214.60 L270.67,213.97 L270.98,213.35 L271.28,212.72 L271.59,212.10 L271.90,211.47 L272.21,210.85 L272.52,210.22 L272.83,209.60 L273.13,208.97 L273.44,208.35 L273.75,207.72 L274.06,207.10 L274.38,206.47 L274.69,205.85 L275.00,205.22 L275.31,204.60 L275.62,203.97 L275.93,203.35 L276.25,202.72 L276.56,202.10 L276.87,201.47 L277.19,200.85 L277.50,200.22 L277.82,199.60 L278.13,198.97 L278.45,198.35 L278.76,197.72 L279.08,197.10 L279.40,196.47 L279.71,195.85 L280.03,195.22 L280.35,194.60 L280.66,193.97 L280.98,193.35 L281.30,192.72 L281.62,192.10 L281.94,191.47 L282.26,190.85 L282.58,190.22 L282.90,189.60 L283.22,188.97 L283.54,188.35 L283.87,187.72 L284.19,187.10 L284.51,186.47 L284.83,185.85 L285.16,185.22 L285.48,184.60 L285.80,183.97 L286.13,183.35 L286.45,182.72 L286.78,182.10 L287.10,181.47 L287.43,180.85 L287.76,180.22 L288.08,179.60 L288.41,178.97 L288.74,178.35 L289.07,177.72 L289.39,177.10 L289.72,176.47 L290.05,175.85 L290.38,175.22 L290.71,174.60 L291.04,173.97 L291.37,173.35 L291.71,172.72 L292.04,172.10 L292.37,171.47 L292.70,170.85 L293.03,170.22 L293.37,169.60 L293.70,168.97 L294.04,168.35 L294.37,167.72 L294.71,167.10 L295.04,166.47 L295.38,165.85 L295.71,165.22 L296.05,164.60 L296.39,163.97 L296.72,163.35 L297.06,162.72 L297.40,162.10 L297.74,161.47 L298.08,160.85 L298.42,160.22 L298.76,159.60 L299.10,158.97 L299.44,158.35 L299.78,157.72 L300.12,157.10 L300.47,156.47 L300.81,155.85 L301.15,155.22 L301.49,154.60 L301.84,153.97 L302.18,153.35 L302.53,152.72 L302.87,152.10 L303.22,151.47 L303.57,150.85 L303.91,150.22 L304.26,149.60 L304.61,148.97 L304.96,148.35 L305.30,147.72 L305.65,147.10 L306.00,146.47 L306.35,145.85 L306.70,145.22 L307.05,144.60 L307.41,143.97 L307.76,143.35 L308.11,142.72 L308.46,142.10 L308.82,141.47 L309.17,140.85 L309.52,140.22 L309.88,139.60 L310.23,138.97 L310.59,138.35 L310.94,137.72 L311.30,137.10 L311.66,136.47 L312.02,135.85 L312.37,135.22 L312.73,134.60 L313.09,133.97 L313.45,133.35 L313.81,132.72 L314.17,132.10 L314.53,131.47 L314.89,130.85 L315.25,130.22 L315.61,129.60 L315.98,128.97 L316.34,128.35 L316.70,127.72 L317.07,127.10 L317.43,126.47 L317.80,125.85 L318.16,125.22 L318.53,124.60 L318.90,123.97 L319.26,123.35 L319.63,122.72 L320.00,122.10 L320.37,121.47 L320.74,120.85 L321.11,120.22 L321.48,119.60 L321.85,118.97 L322.22,118.35 L322.59,117.72 L322.96,117.10 L323.33,116.47 L323.71,115.85 L324.08,115.22 L324.45,114.60 L324.83,113.97 L325.20,113.35 L325.58,112.72 L325.96,112.10 L326.33,111.47 L326.71,110.85 L327.09,110.22 L327.46,109.60 L327.84,108.97 L328.22,108.35 L328.60,107.72 L328.98,107.10 L329.36,106.47 L329.75,105.85 L330.13,105.22 L330.51,104.60 L330.89,103.97 L331.28,103.35 L331.66,102.72 L332.04,102.10 L332.42,101.48 L332.79,100.87 L333.14,100.27 L333.50,99.68 L333.85,99.08 L334.21,98.48 L334.57,97.87 L334.95,97.26 L335.35,96.62 L335.77,95.97 L336.22,95.30 L336.70,94.60 L337.46,93.52 L338.29,92.35 L339.19,91.12 L340.14,89.84 L341.13,88.53 L342.14,87.21 L343.16,85.89 L344.18,84.59 L345.19,83.34 L346.17,82.14 L347.11,81.02 L348.00,80.00 L348.61,79.31 L349.21,78.66 L349.78,78.04 L350.34,77.44 L350.90,76.87 L351.45,76.32 L352.00,75.77 L352.57,75.24 L353.14,74.71 L353.74,74.18 L354.35,73.64 L355.00,73.10 L355.75,72.48 L356.53,71.86 L357.32,71.24 L358.14,70.62 L358.97,70.00 L359.82,69.40 L360.67,68.80 L361.54,68.22 L362.40,67.66 L363.27,67.11 L364.14,66.59 L365.00,66.10 L365.81,65.66 L366.63,65.22 L367.45,64.81 L368.28,64.41 L369.11,64.02 L369.94,63.65 L370.78,63.30 L371.62,62.97 L372.46,62.65 L373.31,62.35 L374.15,62.06 L375.00,61.80 L375.82,61.57 L376.65,61.36 L377.48,61.17 L378.31,61.01 L379.14,60.86 L379.98,60.72 L380.81,60.59 L381.65,60.47 L382.49,60.35 L383.33,60.24 L384.16,60.12 L385.00,60.00 L385.82,59.88 L386.61,59.78 L387.39,59.69 L388.17,59.60 L388.94,59.52 L389.72,59.44 L390.52,59.35 L391.34,59.26 L392.19,59.17 L393.08,59.06 L394.01,58.94 L395.00,58.80 L396.67,58.55 L398.45,58.26 L400.32,57.95 L402.29,57.61 L404.32,57.25 L406.43,56.87 L408.60,56.48 L410.82,56.09 L413.07,55.69 L415.36,55.29 L417.67,54.89 L420.00,54.50 L422.98,54.01 L426.03,53.52 L429.15,53.01 L432.34,52.50 L435.59,51.99 L438.91,51.47 L442.28,50.94 L445.72,50.40 L449.21,49.86 L452.76,49.31 L456.35,48.76 L460.00,48.20 L464.57,47.50 L469.30,46.78 L474.14,46.05 L479.10,45.30 L484.14,44.55 L489.24,43.79 L494.38,43.03 L499.55,42.26 L504.71,41.51 L509.86,40.76 L514.96,40.02 L520.00,39.30 L525.03,38.59 L530.10,37.87 L535.21,37.15 L540.34,36.44 L545.46,35.73 L550.57,35.03 L555.65,34.34 L560.68,33.66 L565.65,32.99 L570.53,32.34 L575.32,31.71 L580.00,31.10 L584.03,30.58 L588.18,30.06 L592.39,29.53 L596.62,29.01 L600.79,28.50 L604.87,28.01 L608.78,27.53 L612.48,27.09 L615.91,26.68 L619.01,26.31 L621.73,25.98 L624.00,25.70 L624.74,25.61 L625.42,25.53 L626.03,25.45 L626.59,25.38 L627.12,25.32 L627.61,25.26 L628.08,25.20 L628.55,25.14 L629.01,25.08 L629.48,25.03 L629.98,24.96 L630.50,24.90 L640.00,23.80" stroke="#00B050" stroke-width="5.5" fill="none" stroke-linejoin="round" stroke-linecap="round"/>
</g><g clip-path="url(#ci)">
<path d="M409.10,398.40 L409.65,397.98 L410.21,397.56 L410.76,397.14 L411.31,396.72 L411.86,396.30 L412.42,395.87 L412.97,395.45 L413.52,395.02 L414.07,394.59 L414.63,394.16 L415.18,393.73 L415.73,393.30 L416.29,392.86 L416.84,392.43 L417.39,391.99 L417.94,391.55 L418.50,391.11 L419.05,390.67 L419.60,390.23 L420.16,389.79 L420.71,389.34 L421.26,388.90 L421.81,388.45 L422.37,388.00 L422.92,387.55 L423.47,387.10 L424.02,386.65 L424.58,386.20 L425.13,385.74 L425.68,385.29 L426.24,384.83 L426.79,384.36 L427.34,383.90 L427.89,383.43 L428.45,382.96 L429.00,382.48 L429.55,382.01 L430.10,381.53 L430.66,381.05 L431.21,380.57 L431.76,380.09 L432.32,379.61 L432.87,379.13 L433.42,378.65 L433.97,378.17 L434.53,377.69 L435.08,377.21 L435.63,376.73 L436.18,376.25 L436.74,375.77 L437.29,375.30 L437.84,374.83 L438.40,374.35 L438.95,373.89 L439.50,373.42 L440.05,372.95 L440.61,372.49 L441.16,372.04 L441.71,371.59 L442.27,371.14 L442.82,370.69 L443.37,370.24 L443.92,369.79 L444.48,369.35 L445.03,368.90 L445.58,368.46 L446.13,368.01 L446.69,367.56 L447.24,367.11 L447.79,366.65 L448.35,366.20 L448.90,365.74 L449.45,365.27 L450.00,364.80 L450.56,364.32 L451.11,363.84 L451.66,363.35 L452.21,362.86 L452.77,362.36 L453.32,361.86 L453.87,361.36 L454.43,360.85 L454.98,360.35 L455.53,359.84 L456.08,359.33 L456.64,358.83 L457.19,358.32 L457.74,357.82 L458.29,357.32 L458.85,356.82 L459.40,356.33 L459.95,355.84 L460.51,355.36 L461.06,354.87 L461.61,354.39 L462.16,353.91 L462.72,353.43 L463.27,352.95 L463.82,352.48 L464.38,352.00 L464.93,351.52 L465.48,351.05 L466.03,350.58 L466.59,350.11 L467.14,349.63 L467.69,349.16 L468.24,348.69 L468.80,348.22 L469.35,347.75 L469.90,347.28 L470.46,346.81 L471.01,346.34 L471.56,345.87 L472.11,345.40 L472.67,344.93 L473.22,344.46 L473.77,343.99 L474.32,343.52 L474.88,343.05 L475.43,342.59 L475.98,342.12 L476.54,341.66 L477.09,341.19 L477.64,340.73 L478.19,340.28 L478.75,339.82 L479.30,339.37 L479.85,338.92 L480.40,338.47 L480.96,338.03 L481.51,337.59 L482.06,337.15 L482.62,336.71 L483.17,336.27 L483.72,335.84 L484.27,335.40 L484.83,334.97 L485.38,334.54 L485.93,334.12 L486.49,333.69 L487.04,333.26 L487.59,332.84 L488.14,332.42 L488.70,331.99 L489.25,331.57 L489.80,331.15 L490.35,330.73 L490.91,330.31 L491.46,329.89 L492.01,329.48 L492.57,329.06 L493.12,328.64 L493.67,328.23 L494.22,327.81 L494.78,327.40 L495.33,326.98 L495.88,326.57 L496.43,326.16 L496.99,325.75 L497.54,325.33 L498.09,324.92 L498.65,324.51 L499.20,324.10 L499.75,323.69 L500.30,323.29 L500.86,322.88 L501.41,322.47 L501.96,322.06 L502.51,321.66 L503.07,321.25 L503.62,320.85 L504.17,320.44 L504.73,320.04 L505.28,319.63 L505.83,319.23 L506.38,318.82 L506.94,318.42 L507.49,318.02 L508.04,317.62 L508.60,317.22 L509.15,316.81 L509.70,316.41 L510.25,316.01 L510.81,315.61 L511.36,315.21 L511.91,314.81 L512.46,314.41 L513.02,314.02 L513.57,313.62 L514.12,313.22 L514.68,312.82 L515.23,312.42 L515.78,312.03 L516.33,311.63 L516.89,311.23 L517.44,310.84 L517.99,310.44 L518.54,310.04 L519.10,309.65 L519.65,309.25 L520.20,308.85 L520.76,308.46 L521.31,308.06 L521.86,307.67 L522.41,307.27 L522.97,306.88 L523.52,306.48 L524.07,306.09 L524.62,305.70 L525.18,305.30 L525.73,304.91 L526.28,304.51 L526.84,304.12 L527.39,303.73 L527.94,303.33 L528.49,302.94 L529.05,302.55 L529.60,302.16 L530.15,301.77 L530.71,301.37 L531.26,300.98 L531.81,300.59 L532.36,300.20 L532.92,299.81 L533.47,299.42 L534.02,299.03 L534.57,298.64 L535.13,298.25 L535.68,297.86 L536.23,297.47 L536.79,297.08 L537.34,296.69 L537.89,296.31 L538.44,295.92 L539.00,295.53 L539.55,295.14 L540.10,294.76 L540.65,294.37 L541.21,293.99 L541.76,293.60 L542.31,293.21 L542.87,292.83 L543.42,292.44 L543.97,292.06 L544.52,291.68 L545.08,291.29 L545.63,290.91 L546.18,290.53 L546.73,290.14 L547.29,289.76 L547.84,289.38 L548.39,289.00 L548.95,288.62 L549.50,288.24 L550.05,287.86 L550.60,287.48 L551.16,287.10 L551.71,286.72 L552.26,286.34 L552.82,285.97 L553.37,285.59 L553.92,285.21 L554.47,284.84 L555.03,284.46 L555.58,284.09 L556.13,283.71 L556.68,283.34 L557.24,282.96 L557.79,282.59 L558.34,282.22 L558.90,281.84 L559.45,281.47 L560.00,281.10 L560.55,280.73 L561.11,280.36 L561.66,279.99 L562.21,279.62 L562.76,279.25 L563.32,278.88 L563.87,278.51 L564.42,278.14 L564.98,277.78 L565.53,277.41 L566.08,277.04 L566.63,276.67 L567.19,276.31 L567.74,275.94 L568.29,275.58 L568.84,275.21 L569.40,274.85 L569.95,274.48 L570.50,274.12 L571.06,273.76 L571.61,273.39 L572.16,273.03 L572.71,272.67 L573.27,272.31 L573.82,271.95 L574.37,271.58 L574.93,271.22 L575.48,270.86 L576.03,270.50 L576.58,270.14 L577.14,269.78 L577.69,269.42 L578.24,269.07 L578.79,268.71 L579.35,268.35 L579.90,267.99 L580.45,267.63 L581.01,267.28 L581.56,266.92 L582.11,266.56 L582.66,266.21 L583.22,265.85 L583.77,265.50 L584.32,265.14 L584.87,264.79 L585.43,264.43 L585.98,264.08 L586.53,263.73 L587.09,263.37 L587.64,263.02 L588.19,262.67 L588.74,262.31 L589.30,261.96 L589.85,261.61 L590.40,261.26 L590.95,260.91 L591.51,260.56 L592.06,260.21 L592.61,259.86 L593.17,259.51 L593.72,259.16 L594.27,258.81 L594.82,258.46 L595.38,258.11 L595.93,257.76 L596.48,257.41 L597.04,257.06 L597.59,256.71 L598.14,256.37 L598.69,256.02 L599.25,255.67 L599.80,255.33 L600.35,254.98 L600.90,254.63 L601.46,254.29 L602.01,253.94 L602.56,253.60 L603.12,253.25 L603.67,252.91 L604.22,252.57 L604.77,252.23 L605.33,251.88 L605.88,251.54 L606.43,251.20 L606.98,250.86 L607.54,250.52 L608.09,250.18 L608.64,249.84 L609.20,249.50 L609.75,249.16 L610.30,248.82 L610.85,248.48 L611.41,248.14 L611.96,247.81 L612.51,247.47 L613.06,247.13 L613.62,246.80 L614.17,246.46 L614.72,246.12 L615.28,245.79 L615.83,245.45 L616.38,245.12 L616.93,244.78 L617.49,244.45 L618.04,244.11 L618.59,243.78 L619.14,243.44 L619.70,243.11 L620.25,242.78 L620.80,242.44 L621.36,242.11 L621.91,241.78 L622.46,241.44 L623.01,241.11 L623.57,240.78 L624.12,240.45 L624.67,240.12 L625.23,239.78 L625.78,239.45 L626.33,239.12 L626.88,238.79 L627.44,238.46 L627.99,238.12 L628.54,237.79 L629.09,237.46 L629.65,237.13 L630.20,236.80 L631.31,236.14" stroke="#00B0F0" stroke-width="5.3" fill="none" stroke-linejoin="round" stroke-linecap="round"/>
<path d="M409.10,398.40 L409.65,398.12 L410.21,397.85 L410.76,397.57 L411.31,397.29 L411.86,397.02 L412.42,396.74 L412.97,396.47 L413.52,396.19 L414.07,395.92 L414.63,395.64 L415.18,395.37 L415.73,395.10 L416.29,394.83 L416.84,394.55 L417.39,394.28 L417.94,394.01 L418.50,393.74 L419.05,393.47 L419.60,393.20 L420.16,392.94 L420.71,392.67 L421.26,392.40 L421.81,392.13 L422.37,391.87 L422.92,391.60 L423.47,391.33 L424.02,391.07 L424.58,390.80 L425.13,390.54 L425.68,390.27 L426.24,390.01 L426.79,389.75 L427.34,389.48 L427.89,389.22 L428.45,388.96 L429.00,388.69 L429.55,388.43 L430.10,388.17 L430.66,387.91 L431.21,387.65 L431.76,387.39 L432.32,387.13 L432.87,386.87 L433.42,386.61 L433.97,386.35 L434.53,386.09 L435.08,385.84 L435.63,385.58 L436.18,385.33 L436.74,385.08 L437.29,384.82 L437.84,384.57 L438.40,384.32 L438.95,384.07 L439.50,383.82 L440.05,383.58 L440.61,383.33 L441.16,383.09 L441.71,382.85 L442.27,382.61 L442.82,382.37 L443.37,382.13 L443.92,381.90 L444.48,381.66 L445.03,381.43 L445.58,381.20 L446.13,380.96 L446.69,380.73 L447.24,380.49 L447.79,380.26 L448.35,380.02 L448.90,379.78 L449.45,379.54 L450.00,379.30 L450.56,379.05 L451.11,378.81 L451.66,378.56 L452.21,378.31 L452.77,378.05 L453.32,377.80 L453.87,377.55 L454.43,377.29 L454.98,377.04 L455.53,376.78 L456.08,376.53 L456.64,376.28 L457.19,376.03 L457.74,375.78 L458.29,375.54 L458.85,375.29 L459.40,375.05 L459.95,374.82 L460.51,374.59 L461.06,374.36 L461.61,374.13 L462.16,373.90 L462.72,373.67 L463.27,373.44 L463.82,373.22 L464.38,372.99 L464.93,372.77 L465.48,372.55 L466.03,372.33 L466.59,372.11 L467.14,371.89 L467.69,371.67 L468.24,371.45 L468.80,371.24 L469.35,371.02 L469.90,370.81 L470.46,370.59 L471.01,370.38 L471.56,370.17 L472.11,369.95 L472.67,369.74 L473.22,369.53 L473.77,369.32 L474.32,369.11 L474.88,368.91 L475.43,368.70 L475.98,368.49 L476.54,368.28 L477.09,368.08 L477.64,367.87 L478.19,367.67 L478.75,367.46 L479.30,367.26 L479.85,367.05 L480.40,366.85 L480.96,366.65 L481.51,366.45 L482.06,366.24 L482.62,366.04 L483.17,365.84 L483.72,365.64 L484.27,365.44 L484.83,365.24 L485.38,365.04 L485.93,364.84 L486.49,364.64 L487.04,364.44 L487.59,364.24 L488.14,364.04 L488.70,363.84 L489.25,363.65 L489.80,363.45 L490.35,363.25 L490.91,363.05 L491.46,362.86 L492.01,362.66 L492.57,362.47 L493.12,362.27 L493.67,362.08 L494.22,361.88 L494.78,361.69 L495.33,361.50 L495.88,361.30 L496.43,361.11 L496.99,360.92 L497.54,360.72 L498.09,360.53 L498.65,360.34 L499.20,360.15 L499.75,359.96 L500.30,359.77 L500.86,359.58 L501.41,359.39 L501.96,359.20 L502.51,359.01 L503.07,358.82 L503.62,358.64 L504.17,358.45 L504.73,358.26 L505.28,358.07 L505.83,357.89 L506.38,357.70 L506.94,357.51 L507.49,357.33 L508.04,357.14 L508.60,356.96 L509.15,356.77 L509.70,356.59 L510.25,356.41 L510.81,356.22 L511.36,356.04 L511.91,355.86 L512.46,355.68 L513.02,355.49 L513.57,355.31 L514.12,355.13 L514.68,354.95 L515.23,354.77 L515.78,354.59 L516.33,354.41 L516.89,354.23 L517.44,354.05 L517.99,353.88 L518.54,353.70 L519.10,353.52 L519.65,353.34 L520.20,353.17 L520.76,352.99 L521.31,352.81 L521.86,352.64 L522.41,352.47 L522.97,352.29 L523.52,352.12 L524.07,351.95 L524.62,351.78 L525.18,351.61 L525.73,351.44 L526.28,351.27 L526.84,351.10 L527.39,350.93 L527.94,350.76 L528.49,350.60 L529.05,350.43 L529.60,350.26 L530.15,350.10 L530.71,349.93 L531.26,349.77 L531.81,349.60 L532.36,349.44 L532.92,349.27 L533.47,349.11 L534.02,348.94 L534.57,348.78 L535.13,348.62 L535.68,348.45 L536.23,348.29 L536.79,348.12 L537.34,347.96 L537.89,347.80 L538.44,347.63 L539.00,347.47 L539.55,347.30 L540.10,347.14 L540.65,346.98 L541.21,346.81 L541.76,346.65 L542.31,346.48 L542.87,346.32 L543.42,346.16 L543.97,345.99 L544.52,345.83 L545.08,345.67 L545.63,345.50 L546.18,345.34 L546.73,345.18 L547.29,345.02 L547.84,344.85 L548.39,344.69 L548.95,344.53 L549.50,344.37 L550.05,344.21 L550.60,344.04 L551.16,343.88 L551.71,343.72 L552.26,343.56 L552.82,343.40 L553.37,343.24 L553.92,343.08 L554.47,342.92 L555.03,342.76 L555.58,342.60 L556.13,342.44 L556.68,342.28 L557.24,342.12 L557.79,341.96 L558.34,341.80 L558.90,341.64 L559.45,341.48 L560.00,341.32 L560.55,341.16 L561.11,341.00 L561.66,340.84 L562.21,340.69 L562.76,340.53 L563.32,340.37 L563.87,340.21 L564.42,340.05 L564.98,339.90 L565.53,339.74 L566.08,339.58 L566.63,339.42 L567.19,339.27 L567.74,339.11 L568.29,338.95 L568.84,338.80 L569.40,338.64 L569.95,338.48 L570.50,338.33 L571.06,338.17 L571.61,338.01 L572.16,337.86 L572.71,337.70 L573.27,337.55 L573.82,337.39 L574.37,337.24 L574.93,337.08 L575.48,336.93 L576.03,336.77 L576.58,336.62 L577.14,336.46 L577.69,336.31 L578.24,336.15 L578.79,336.00 L579.35,335.84 L579.90,335.69 L580.45,335.53 L581.01,335.38 L581.56,335.23 L582.11,335.07 L582.66,334.92 L583.22,334.76 L583.77,334.61 L584.32,334.46 L584.87,334.30 L585.43,334.15 L585.98,334.00 L586.53,333.84 L587.09,333.69 L587.64,333.54 L588.19,333.38 L588.74,333.23 L589.30,333.08 L589.85,332.93 L590.40,332.77 L590.95,332.62 L591.51,332.47 L592.06,332.32 L592.61,332.17 L593.17,332.02 L593.72,331.86 L594.27,331.71 L594.82,331.56 L595.38,331.41 L595.93,331.26 L596.48,331.11 L597.04,330.96 L597.59,330.81 L598.14,330.66 L598.69,330.51 L599.25,330.35 L599.80,330.20 L600.35,330.05 L600.90,329.90 L601.46,329.75 L602.01,329.60 L602.56,329.45 L603.12,329.31 L603.67,329.16 L604.22,329.01 L604.77,328.86 L605.33,328.71 L605.88,328.56 L606.43,328.41 L606.98,328.26 L607.54,328.11 L608.09,327.96 L608.64,327.81 L609.20,327.66 L609.75,327.51 L610.30,327.36 L610.85,327.21 L611.41,327.07 L611.96,326.92 L612.51,326.77 L613.06,326.62 L613.62,326.47 L614.17,326.32 L614.72,326.17 L615.28,326.03 L615.83,325.88 L616.38,325.73 L616.93,325.58 L617.49,325.44 L618.04,325.29 L618.59,325.14 L619.14,324.99 L619.70,324.85 L620.25,324.70 L620.80,324.55 L621.36,324.41 L621.91,324.26 L622.46,324.12 L623.01,323.97 L623.57,323.82 L624.12,323.68 L624.67,323.53 L625.23,323.39 L625.78,323.24 L626.33,323.10 L626.88,322.95 L627.44,322.81 L627.99,322.66 L628.54,322.52 L629.09,322.38 L629.65,322.23 L630.20,322.09 L631.31,321.80" stroke="#FF0000" stroke-width="5.3" fill="none" stroke-linejoin="round" stroke-linecap="round"/>
<path d="M409.10,398.40 L409.65,397.65 L410.21,396.90 L410.76,396.16 L411.31,395.43 L411.86,394.70 L412.42,393.98 L412.97,393.27 L413.52,392.56 L414.07,391.86 L414.63,391.17 L415.18,390.48 L415.73,389.80 L416.29,389.13 L416.84,388.47 L417.39,387.81 L417.94,387.16 L418.50,386.51 L419.05,385.88 L419.60,385.25 L420.16,384.63 L420.71,384.01 L421.26,383.41 L421.81,382.81 L422.37,382.21 L422.92,381.63 L423.47,381.05 L424.02,380.47 L424.58,379.90 L425.13,379.34 L425.68,378.78 L426.24,378.23 L426.79,377.69 L427.34,377.14 L427.89,376.61 L428.45,376.07 L429.00,375.55 L429.55,375.02 L430.10,374.50 L430.66,373.99 L431.21,373.47 L431.76,372.97 L432.32,372.46 L432.87,371.97 L433.42,371.47 L433.97,370.98 L434.53,370.50 L435.08,370.01 L435.63,369.54 L436.18,369.06 L436.74,368.59 L437.29,368.13 L437.84,367.67 L438.40,367.21 L438.95,366.75 L439.50,366.30 L440.05,365.86 L440.61,365.41 L441.16,364.97 L441.71,364.54 L442.27,364.10 L442.82,363.67 L443.37,363.25 L443.92,362.82 L444.48,362.40 L445.03,361.98 L445.58,361.57 L446.13,361.16 L446.69,360.76 L447.24,360.35 L447.79,359.95 L448.35,359.56 L448.90,359.17 L449.45,358.78 L450.00,358.40 L450.56,358.02 L451.11,357.63 L451.66,357.25 L452.21,356.87 L452.77,356.49 L453.32,356.11 L453.87,355.73 L454.43,355.36 L454.98,354.99 L455.53,354.63 L456.08,354.28 L456.64,353.93 L457.19,353.59 L457.74,353.26 L458.29,352.93 L458.85,352.62 L459.40,352.32 L459.95,352.02 L460.51,351.74 L461.06,351.45 L461.61,351.17 L462.16,350.89 L462.72,350.61 L463.27,350.34 L463.82,350.07 L464.38,349.80 L464.93,349.54 L465.48,349.30 L466.03,349.06 L466.59,348.83 L467.14,348.61 L467.69,348.40 L468.24,348.21 L468.80,348.03 L469.35,347.87 L469.90,347.72 L470.46,347.59 L471.01,347.46 L471.56,347.34 L472.11,347.22 L472.67,347.11 L473.22,347.00 L473.77,346.90 L474.32,346.80 L474.88,346.70 L475.43,346.61 L475.98,346.52 L476.54,346.44 L477.09,346.36 L477.64,346.29 L478.19,346.21 L478.75,346.14 L479.30,346.08 L479.85,346.02 L480.40,345.96 L480.96,345.90 L481.51,345.84 L482.06,345.79 L482.62,345.74 L483.17,345.68 L483.72,345.63 L484.27,345.59 L484.83,345.54 L485.38,345.49 L485.93,345.45 L486.49,345.41 L487.04,345.36 L487.59,345.32 L488.14,345.28 L488.70,345.24 L489.25,345.20 L489.80,345.17 L490.35,345.13 L490.91,345.09 L491.46,345.05 L492.01,345.02 L492.57,344.98 L493.12,344.95 L493.67,344.91 L494.22,344.88 L494.78,344.84 L495.33,344.81 L495.88,344.77 L496.43,344.74 L496.99,344.70 L497.54,344.67 L498.09,344.63 L498.65,344.59 L499.20,344.56 L499.75,344.52 L500.30,344.48 L500.86,344.44 L501.41,344.40 L501.96,344.36 L502.51,344.33 L503.07,344.29 L503.62,344.25 L504.17,344.21 L504.73,344.18 L505.28,344.14 L505.83,344.10 L506.38,344.07 L506.94,344.03 L507.49,344.00 L508.04,343.96 L508.60,343.92 L509.15,343.89 L509.70,343.85 L510.25,343.82 L510.81,343.78 L511.36,343.74 L511.91,343.71 L512.46,343.67 L513.02,343.64 L513.57,343.60 L514.12,343.57 L514.68,343.53 L515.23,343.50 L515.78,343.46 L516.33,343.43 L516.89,343.39 L517.44,343.36 L517.99,343.33 L518.54,343.29 L519.10,343.26 L519.65,343.22 L520.20,343.19 L520.76,343.15 L521.31,343.12 L521.86,343.08 L522.41,343.05 L522.97,343.01 L523.52,342.98 L524.07,342.94 L524.62,342.90 L525.18,342.87 L525.73,342.83 L526.28,342.80 L526.84,342.76 L527.39,342.72 L527.94,342.69 L528.49,342.65 L529.05,342.62 L529.60,342.58 L530.15,342.55 L530.71,342.51 L531.26,342.48 L531.81,342.44 L532.36,342.41 L532.92,342.38 L533.47,342.34 L534.02,342.31 L534.57,342.28 L535.13,342.25 L535.68,342.22 L536.23,342.19 L536.79,342.16 L537.34,342.13 L537.89,342.10 L538.44,342.07 L539.00,342.05 L539.55,342.02 L540.10,342.00 L540.65,341.97 L541.21,341.95 L541.76,341.92 L542.31,341.90 L542.87,341.87 L543.42,341.85 L543.97,341.83 L544.52,341.81 L545.08,341.78 L545.63,341.76 L546.18,341.74 L546.73,341.72 L547.29,341.70 L547.84,341.68 L548.39,341.65 L548.95,341.63 L549.50,341.61 L550.05,341.59 L550.60,341.57 L551.16,341.55 L551.71,341.53 L552.26,341.51 L552.82,341.49 L553.37,341.47 L553.92,341.46 L554.47,341.44 L555.03,341.42 L555.58,341.40 L556.13,341.38 L556.68,341.36 L557.24,341.35 L557.79,341.33 L558.34,341.31 L558.90,341.29 L559.45,341.27 L560.00,341.26 L560.55,341.24 L561.11,341.22 L561.66,341.21 L562.21,341.19 L562.76,341.17 L563.32,341.16 L563.87,341.14 L564.42,341.12 L564.98,341.11 L565.53,341.09 L566.08,341.07 L566.63,341.06 L567.19,341.04 L567.74,341.02 L568.29,341.01 L568.84,340.99 L569.40,340.98 L569.95,340.96 L570.50,340.94 L571.06,340.93 L571.61,340.91 L572.16,340.90 L572.71,340.88 L573.27,340.86 L573.82,340.85 L574.37,340.83 L574.93,340.82 L575.48,340.80 L576.03,340.79 L576.58,340.77 L577.14,340.75 L577.69,340.74 L578.24,340.72 L578.79,340.70 L579.35,340.69 L579.90,340.67 L580.45,340.66 L581.01,340.64 L581.56,340.62 L582.11,340.61 L582.66,340.59 L583.22,340.57 L583.77,340.56 L584.32,340.54 L584.87,340.52 L585.43,340.51 L585.98,340.49 L586.53,340.47 L587.09,340.45 L587.64,340.44 L588.19,340.42 L588.74,340.40 L589.30,340.38 L589.85,340.36 L590.40,340.35 L590.95,340.33 L591.51,340.31 L592.06,340.29 L592.61,340.27 L593.17,340.25 L593.72,340.23 L594.27,340.21 L594.82,340.19 L595.38,340.17 L595.93,340.15 L596.48,340.13 L597.04,340.11 L597.59,340.09 L598.14,340.07 L598.69,340.05 L599.25,340.03 L599.80,340.01 L600.35,339.99 L600.90,339.96 L601.46,339.94 L602.01,339.92 L602.56,339.90 L603.12,339.87 L603.67,339.85 L604.22,339.82 L604.77,339.80 L605.33,339.78 L605.88,339.75 L606.43,339.73 L606.98,339.70 L607.54,339.67 L608.09,339.65 L608.64,339.62 L609.20,339.60 L609.75,339.57 L610.30,339.55 L610.85,339.52 L611.41,339.49 L611.96,339.47 L612.51,339.44 L613.06,339.41 L613.62,339.39 L614.17,339.36 L614.72,339.33 L615.28,339.30 L615.83,339.28 L616.38,339.25 L616.93,339.22 L617.49,339.20 L618.04,339.17 L618.59,339.14 L619.14,339.11 L619.70,339.09 L620.25,339.06 L620.80,339.03 L621.36,339.01 L621.91,338.98 L622.46,338.95 L623.01,338.93 L623.57,338.90 L624.12,338.88 L624.67,338.85 L625.23,338.82 L625.78,338.80 L626.33,338.77 L626.88,338.75 L627.44,338.72 L627.99,338.70 L628.54,338.67 L629.09,338.65 L629.65,338.62 L630.20,338.60 L631.31,338.55" stroke="#000000" stroke-width="5.6" fill="none" stroke-linejoin="round" stroke-linecap="round"/>
<path d="M409.10,398.40 L409.65,398.19 L410.21,397.97 L410.76,397.76 L411.31,397.55 L411.86,397.33 L412.42,397.12 L412.97,396.91 L413.52,396.70 L414.07,396.48 L414.63,396.27 L415.18,396.06 L415.73,395.85 L416.29,395.64 L416.84,395.42 L417.39,395.21 L417.94,395.00 L418.50,394.79 L419.05,394.58 L419.60,394.37 L420.16,394.16 L420.71,393.95 L421.26,393.74 L421.81,393.53 L422.37,393.32 L422.92,393.11 L423.47,392.90 L424.02,392.69 L424.58,392.48 L425.13,392.27 L425.68,392.06 L426.24,391.85 L426.79,391.64 L427.34,391.43 L427.89,391.22 L428.45,391.01 L429.00,390.81 L429.55,390.60 L430.10,390.39 L430.66,390.18 L431.21,389.97 L431.76,389.77 L432.32,389.56 L432.87,389.35 L433.42,389.14 L433.97,388.94 L434.53,388.73 L435.08,388.52 L435.63,388.32 L436.18,388.11 L436.74,387.90 L437.29,387.70 L437.84,387.49 L438.40,387.28 L438.95,387.08 L439.50,386.87 L440.05,386.67 L440.61,386.46 L441.16,386.26 L441.71,386.05 L442.27,385.85 L442.82,385.64 L443.37,385.44 L443.92,385.23 L444.48,385.03 L445.03,384.82 L445.58,384.62 L446.13,384.41 L446.69,384.21 L447.24,384.01 L447.79,383.80 L448.35,383.60 L448.90,383.40 L449.45,383.19 L450.00,382.99 L450.56,382.79 L451.11,382.59 L451.66,382.38 L452.21,382.18 L452.77,381.98 L453.32,381.78 L453.87,381.57 L454.43,381.37 L454.98,381.17 L455.53,380.97 L456.08,380.77 L456.64,380.57 L457.19,380.36 L457.74,380.16 L458.29,379.96 L458.85,379.76 L459.40,379.56 L459.95,379.36 L460.51,379.16 L461.06,378.96 L461.61,378.76 L462.16,378.56 L462.72,378.36 L463.27,378.16 L463.82,377.96 L464.38,377.76 L464.93,377.56 L465.48,377.37 L466.03,377.17 L466.59,376.97 L467.14,376.77 L467.69,376.57 L468.24,376.37 L468.80,376.17 L469.35,375.98 L469.90,375.78 L470.46,375.58 L471.01,375.38 L471.56,375.19 L472.11,374.99 L472.67,374.79 L473.22,374.59 L473.77,374.40 L474.32,374.20 L474.88,374.00 L475.43,373.81 L475.98,373.61 L476.54,373.42 L477.09,373.22 L477.64,373.02 L478.19,372.83 L478.75,372.63 L479.30,372.44 L479.85,372.24 L480.40,372.05 L480.96,371.85 L481.51,371.66 L482.06,371.46 L482.62,371.27 L483.17,371.07 L483.72,370.88 L484.27,370.69 L484.83,370.49 L485.38,370.30 L485.93,370.10 L486.49,369.91 L487.04,369.72 L487.59,369.52 L488.14,369.33 L488.70,369.14 L489.25,368.95 L489.80,368.75 L490.35,368.56 L490.91,368.37 L491.46,368.18 L492.01,367.98 L492.57,367.79 L493.12,367.60 L493.67,367.41 L494.22,367.22 L494.78,367.03 L495.33,366.83 L495.88,366.64 L496.43,366.45 L496.99,366.26 L497.54,366.07 L498.09,365.88 L498.65,365.69 L499.20,365.50 L499.75,365.31 L500.30,365.12 L500.86,364.93 L501.41,364.74 L501.96,364.55 L502.51,364.36 L503.07,364.17 L503.62,363.98 L504.17,363.80 L504.73,363.61 L505.28,363.42 L505.83,363.23 L506.38,363.04 L506.94,362.85 L507.49,362.66 L508.04,362.48 L508.60,362.29 L509.15,362.10 L509.70,361.91 L510.25,361.73 L510.81,361.54 L511.36,361.35 L511.91,361.17 L512.46,360.98 L513.02,360.79 L513.57,360.61 L514.12,360.42 L514.68,360.23 L515.23,360.05 L515.78,359.86 L516.33,359.68 L516.89,359.49 L517.44,359.30 L517.99,359.12 L518.54,358.93 L519.10,358.75 L519.65,358.56 L520.20,358.38 L520.76,358.20 L521.31,358.01 L521.86,357.83 L522.41,357.64 L522.97,357.46 L523.52,357.27 L524.07,357.09 L524.62,356.91 L525.18,356.72 L525.73,356.54 L526.28,356.36 L526.84,356.17 L527.39,355.99 L527.94,355.81 L528.49,355.63 L529.05,355.44 L529.60,355.26 L530.15,355.08 L530.71,354.90 L531.26,354.72 L531.81,354.53 L532.36,354.35 L532.92,354.17 L533.47,353.99 L534.02,353.81 L534.57,353.63 L535.13,353.45 L535.68,353.27 L536.23,353.08 L536.79,352.90 L537.34,352.72 L537.89,352.54 L538.44,352.36 L539.00,352.18 L539.55,352.00 L540.10,351.83 L540.65,351.65 L541.21,351.47 L541.76,351.29 L542.31,351.11 L542.87,350.93 L543.42,350.75 L543.97,350.57 L544.52,350.39 L545.08,350.22 L545.63,350.04 L546.18,349.86 L546.73,349.68 L547.29,349.50 L547.84,349.33 L548.39,349.15 L548.95,348.97 L549.50,348.79 L550.05,348.62 L550.60,348.44 L551.16,348.26 L551.71,348.09 L552.26,347.91 L552.82,347.73 L553.37,347.56 L553.92,347.38 L554.47,347.21 L555.03,347.03 L555.58,346.86 L556.13,346.68 L556.68,346.51 L557.24,346.33 L557.79,346.16 L558.34,345.98 L558.90,345.81 L559.45,345.63 L560.00,345.46 L560.55,345.28 L561.11,345.11 L561.66,344.93 L562.21,344.76 L562.76,344.59 L563.32,344.41 L563.87,344.24 L564.42,344.07 L564.98,343.89 L565.53,343.72 L566.08,343.55 L566.63,343.38 L567.19,343.20 L567.74,343.03 L568.29,342.86 L568.84,342.69 L569.40,342.51 L569.95,342.34 L570.50,342.17 L571.06,342.00 L571.61,341.83 L572.16,341.66 L572.71,341.49 L573.27,341.31 L573.82,341.14 L574.37,340.97 L574.93,340.80 L575.48,340.63 L576.03,340.46 L576.58,340.29 L577.14,340.12 L577.69,339.95 L578.24,339.78 L578.79,339.61 L579.35,339.44 L579.90,339.27 L580.45,339.11 L581.01,338.94 L581.56,338.77 L582.11,338.60 L582.66,338.43 L583.22,338.26 L583.77,338.09 L584.32,337.93 L584.87,337.76 L585.43,337.59 L585.98,337.42 L586.53,337.26 L587.09,337.09 L587.64,336.92 L588.19,336.75 L588.74,336.59 L589.30,336.42 L589.85,336.25 L590.40,336.09 L590.95,335.92 L591.51,335.75 L592.06,335.59 L592.61,335.42 L593.17,335.26 L593.72,335.09 L594.27,334.93 L594.82,334.76 L595.38,334.60 L595.93,334.43 L596.48,334.27 L597.04,334.10 L597.59,333.94 L598.14,333.77 L598.69,333.61 L599.25,333.44 L599.80,333.28 L600.35,333.12 L600.90,332.95 L601.46,332.79 L602.01,332.62 L602.56,332.46 L603.12,332.30 L603.67,332.14 L604.22,331.97 L604.77,331.81 L605.33,331.65 L605.88,331.48 L606.43,331.32 L606.98,331.16 L607.54,331.00 L608.09,330.84 L608.64,330.67 L609.20,330.51 L609.75,330.35 L610.30,330.19 L610.85,330.03 L611.41,329.87 L611.96,329.71 L612.51,329.55 L613.06,329.39 L613.62,329.23 L614.17,329.06 L614.72,328.90 L615.28,328.74 L615.83,328.58 L616.38,328.43 L616.93,328.27 L617.49,328.11 L618.04,327.95 L618.59,327.79 L619.14,327.63 L619.70,327.47 L620.25,327.31 L620.80,327.15 L621.36,326.99 L621.91,326.84 L622.46,326.68 L623.01,326.52 L623.57,326.36 L624.12,326.20 L624.67,326.05 L625.23,325.89 L625.78,325.73 L626.33,325.57 L626.88,325.42 L627.44,325.26 L627.99,325.10 L628.54,324.95 L629.09,324.79 L629.65,324.64 L630.20,324.48 L631.31,324.17" stroke="#FFC000" stroke-width="5.6" fill="none" stroke-linejoin="round" stroke-linecap="round"/>
</g>
<g font-family="Liberation Sans" font-size="29.5" fill="#000" stroke="#000" stroke-width="0.35">
<g transform="translate(51.69,23.00) scale(0.99,1.01)"><text x="0.000" y="0">80000</text></g>
<g transform="translate(51.69,139.00) scale(0.99,1.01)"><text x="0.000" y="0">60000</text></g>
<g transform="translate(51.69,255.00) scale(0.99,1.01)"><text x="0.000" y="0">40000</text></g>
<g transform="translate(51.69,371.00) scale(0.99,1.01)"><text x="0.000" y="0">20000</text></g>
<g transform="translate(116.66,487.00) scale(0.99,1.01)"><text x="0.000" y="0">0</text></g>
<g transform="translate(318.93,243.20) scale(0.99,1.01)"><text x="0.000" y="0">5000</text></g>
<g transform="translate(318.93,325.45) scale(0.99,1.01)"><text x="0.000" y="0">2500</text></g>
<g transform="translate(367.66,407.70) scale(0.99,1.01)"><text x="0.000" y="0">0</text></g>
<g transform="translate(150.28,522.30) scale(0.99,1.01)"><text x="0.000" y="0">0</text></g>
<g transform="translate(251.99,522.30) scale(0.99,1.01)"><text x="0.000" y="0">500</text></g>
<g transform="translate(361.82,522.30) scale(0.99,1.01)"><path transform="translate(0.000,0) scale(0.014404,-0.014404)" d="M583 0V1237L265 1010V1180L598 1409H764V0Z" vector-effect="non-scaling-stroke"/><text x="16.406" y="0">000</text></g>
<g transform="translate(479.77,522.30) scale(0.99,1.01)"><path transform="translate(0.000,0) scale(0.014404,-0.014404)" d="M583 0V1237L265 1010V1180L598 1409H764V0Z" vector-effect="non-scaling-stroke"/><text x="16.406" y="0">500</text></g>
<g transform="translate(597.72,522.30) scale(0.99,1.01)"><text x="0.000" y="0">2000</text></g>
<g transform="translate(400.98,443.30) scale(0.99,1.01)"><text x="0.000" y="0">0</text></g>
<g transform="translate(487.17,443.30) scale(0.99,1.01)"><path transform="translate(0.000,0) scale(0.014404,-0.014404)" d="M583 0V1237L265 1010V1180L598 1409H764V0Z" vector-effect="non-scaling-stroke"/><text x="16.406" y="0">000</text></g>
<g transform="translate(597.72,443.30) scale(0.99,1.01)"><text x="0.000" y="0">2000</text></g>
</g>
<text transform="translate(394.8,563.3) scale(1,1.03)" stroke="#000" stroke-width="0.35" font-family="Liberation Sans" font-weight="bold" font-size="29.3" text-anchor="middle">Pressure (psia)</text>
<text transform="translate(24.3,248.4) rotate(-90)" stroke="#000" stroke-width="0.35" font-family="Liberation Sans" font-weight="bold" font-size="29.5" text-anchor="middle">Solubility (mg/L)</text>
<g font-family="Liberation Sans" font-size="23.2" text-anchor="end" stroke-width="0.5">
<text x="664.4" y="80.80" fill="#00B0F0" stroke="#00B0F0" textLength="174.4" lengthAdjust="spacingAndGlyphs">Oxygen in water</text>
<text x="664.4" y="112.55" fill="#FF0000" stroke="#FF0000" textLength="192.5" lengthAdjust="spacingAndGlyphs">Methane in water</text>
<text x="664.4" y="144.30" fill="#000000" stroke="#000000" textLength="168.8" lengthAdjust="spacingAndGlyphs">Ethane in water</text>
<text x="664.4" y="176.05" fill="#FFC000" stroke="#FFC000" textLength="188.0" lengthAdjust="spacingAndGlyphs">Nitrogen in water</text>
<text x="664.4" y="207.80" fill="#00B050" stroke="#00B050" textLength="255.3" lengthAdjust="spacingAndGlyphs">Carbon dioxide in water</text>
</g>
</svg>
</body></html>
